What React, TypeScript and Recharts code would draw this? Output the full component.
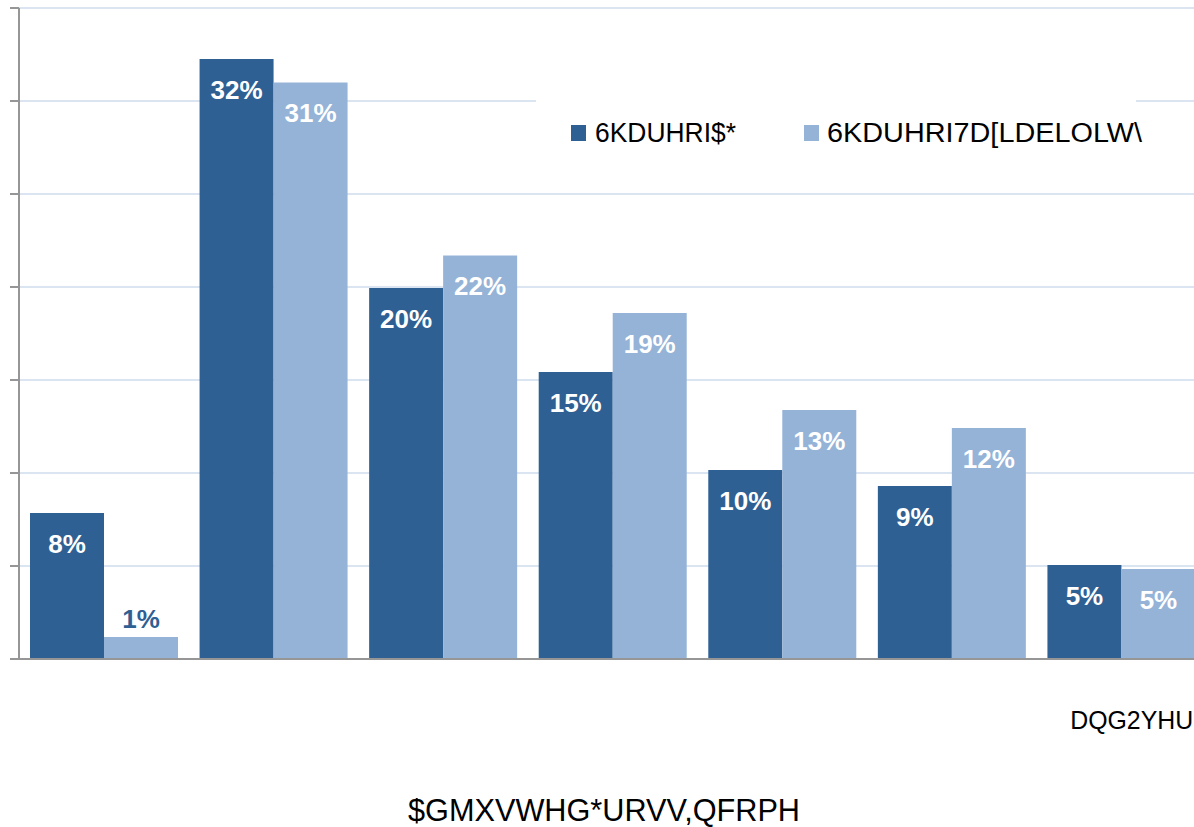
import { Bar, BarChart, CartesianGrid, LabelList, Legend, XAxis, YAxis } from 'recharts'

const categories = ['c1', 'c2', 'c3', 'c4', 'c5', 'c6', 'c7']
const tickLabels = ['', '', '', '', '', '', 'DQG2YHU']
const shareAgi = [7.85, 32.26, 19.95, 15.43, 10.16, 9.3, 5.05]
const shareTax = [1.18, 31.0, 21.7, 18.6, 13.39, 12.42, 4.84]
const yTicks = [0, 5, 10, 15, 20, 25, 30, 35]
const seriesNames = ['6KDUHRI$*', '6KDUHRI7D[LDELOLW\\']
const axisTitle = '$GMXVWHG*URVV,QFRPH'

const DARK = '#2e6094'
const LIGHT = '#95b3d7'
const FONT = '"Liberation Sans", Arial, sans-serif'

const data = categories.map((c, i) => ({
  name: c,
  label: tickLabels[i],
  agi: shareAgi[i],
  tax: shareTax[i],
}))

function BarLabel(props: any) {
  const { x, y, width, height, value } = props
  const small = height < 40
  return (
    <text
      x={x + width / 2}
      y={small ? y - 9 : y + 40}
      textAnchor="middle"
      fill={small ? DARK : '#ffffff'}
      fontFamily={FONT}
      fontWeight="bold"
      fontSize={26}
    >
      {Math.round(value)}%
    </text>
  )
}

function XTick(props: any) {
  const { x, y, index } = props
  const t = tickLabels[index]
  if (!t) return null
  return (
    <text
      x={x - 51}
      y={y + 70}
      textAnchor="start"
      fill="#000"
      fontFamily={FONT}
      fontSize={25}
      textLength={123}
      lengthAdjust="spacingAndGlyphs"
    >
      {t}
    </text>
  )
}

function LegendBox() {
  return (
    <svg width={600} height={90} style={{ overflow: 'visible', display: 'block' }}>
      <rect x={0} y={0} width={600} height={90} fill="#ffffff" />
      <rect x={35} y={35} width={15} height={16} fill={DARK} />
      <text x={59} y={52} fontFamily={FONT} fontSize={27} fill="#000" textLength={141} lengthAdjust="spacingAndGlyphs">
        {seriesNames[0]}
      </text>
      <rect x={268} y={35} width={15} height={16} fill={LIGHT} />
      <text x={291} y={52} fontFamily={FONT} fontSize={27} fill="#000" textLength={315} lengthAdjust="spacingAndGlyphs">
        {seriesNames[1]}
      </text>
    </svg>
  )
}

function AxisTitle(props: any) {
  const { viewBox } = props
  return (
    <text
      x={viewBox.x + 389}
      y={viewBox.y + 162}
      fontFamily={FONT}
      fontSize={32}
      fill="#000"
      textLength={392}
      lengthAdjust="spacingAndGlyphs"
    >
      {axisTitle}
    </text>
  )
}

export default function App() {
  return (
    <div
      style={{
        position: 'fixed',
        left: 0,
        top: 0,
        width: 1194,
        height: 827,
        overflow: 'hidden',
        background: '#ffffff',
      }}
    >
      <BarChart
        width={1206}
        height={827}
        data={data}
        margin={{ top: 8, right: 0, bottom: 0, left: 0 }}
        barGap={0}
        barCategoryGap={11}
      >
        <CartesianGrid vertical={false} stroke="#dbe5f1" strokeWidth={2} />
        <XAxis
          dataKey="name"
          height={168}
          tickLine={false}
          tickSize={0}
          tickMargin={0}
          axisLine={{ stroke: '#969696', strokeWidth: 2 }}
          tick={<XTick />}
          interval={0}
          label={<AxisTitle />}
        />
        <YAxis
          width={19}
          domain={[0, 35]}
          ticks={yTicks}
          tickSize={9}
          tickFormatter={() => ''}
          tickLine={{ stroke: '#969696', strokeWidth: 2 }}
          axisLine={{ stroke: '#969696', strokeWidth: 2 }}
        />
        <Legend
          layout="vertical"
          align="center"
          verticalAlign="middle"
          content={<LegendBox />}
          wrapperStyle={{ left: 536, top: 90, width: 600, height: 90 }}
        />
        <Bar dataKey="agi" name={seriesNames[0]} fill={DARK} isAnimationActive={false}>
          <LabelList dataKey="agi" content={<BarLabel />} />
        </Bar>
        <Bar dataKey="tax" name={seriesNames[1]} fill={LIGHT} isAnimationActive={false}>
          <LabelList dataKey="tax" content={<BarLabel />} />
        </Bar>
      </BarChart>
    </div>
  )
}
